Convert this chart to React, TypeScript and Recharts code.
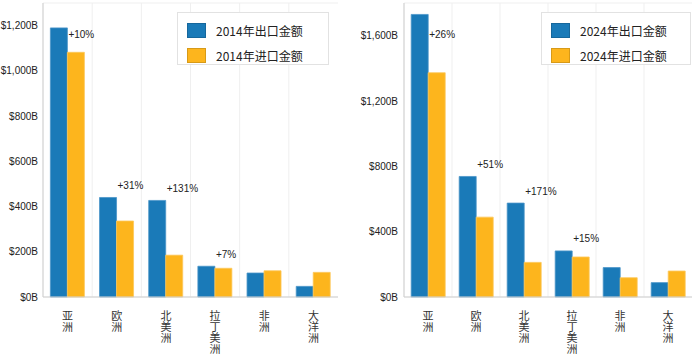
import React from "react";
import { BarChart, Bar, XAxis, YAxis, CartesianGrid, Legend, LabelList } from "recharts";

const regions = ["亚洲", "欧洲", "北美洲", "拉丁美洲", "非洲", "大洋洲"];
const export2014 = [1190, 440, 427, 136, 106, 47];
const import2014 = [1082, 336, 185, 127, 116, 109];
const export2024 = [1730, 738, 575, 282, 180, 88];
const import2024 = [1373, 489, 212, 245, 118, 159];
const growth2014 = ["+10%", "+31%", "+131%", "+7%", "", ""];
const growth2024 = ["+26%", "+51%", "+171%", "+15%", "", ""];
const ticks2014 = [0, 200, 400, 600, 800, 1000, 1200];
const ticks2024 = [0, 400, 800, 1200, 1600];

const BLUE = "#1a7ab8";
const ORANGE = "#fdb51d";
const FONT = "'Liberation Sans', Arial, 'Noto Sans CJK SC', sans-serif";
const CJK = "'Noto Sans CJK SC', 'Liberation Sans', sans-serif";
const PLOT_TOP = 3;

const fmt = (v: number) => `$${v.toLocaleString("en-US")}B`;

function VerticalTick(props: any) {
  const { x, y, payload } = props;
  const chars = String(payload.value).split("");
  return (
    <g>
      {chars.map((c, i) => (
        <text
          key={i}
          x={x}
          y={y + 21 + i * 11}
          textAnchor="middle"
          fontSize={11}
          fill="#333"
          fontFamily={CJK}
        >
          {c}
        </text>
      ))}
    </g>
  );
}

function LegendBox({ year, left, width }: { year: string; left: number; width: number }) {
  const rows = [
    { color: BLUE, text: `${year}年出口金额` },
    { color: ORANGE, text: `${year}年进口金额` },
  ];
  return (
    <div
      style={{
        position: "absolute",
        left,
        top: 12,
        width,
        height: 53,
        boxSizing: "border-box",
        border: "1px solid #e2e2e2",
        background: "#fff",
        padding: "5px 0 0 9px",
      }}
    >
      {rows.map((r) => (
        <div key={r.text} style={{ display: "flex", alignItems: "center", height: 25 }}>
          <span
            style={{
              width: 19,
              height: 15,
              background: r.color,
              boxSizing: "border-box",
              border: "1px solid rgba(0,0,0,0.15)",
              marginRight: 10,
            }}
          />
          <span style={{ fontFamily: CJK, fontSize: 12, color: "#222" }}>{r.text}</span>
        </div>
      ))}
    </div>
  );
}

interface PanelProps {
  year: string;
  exports: number[];
  imports: number[];
  growth: string[];
  yMax: number;
  ticks: number[];
  yWidth: number;
  rightMargin: number;
  tickMargin: number;
  legendLeft: number;
  legendWidth: number;
}

function Panel(p: PanelProps) {
  const data = regions.map((name, i) => ({
    name,
    exp: p.exports[i],
    imp: p.imports[i],
    growth: p.growth[i],
  }));

  const growthLabel = (props: any) => {
    const { x, y, width, index } = props;
    const txt = p.growth[index];
    if (!txt) return null;
    const ty = Math.max(y - 12, PLOT_TOP + 31);
    return (
      <text x={x + width + 1} y={ty} dominantBaseline="central" fontSize={10} fill="#222" fontFamily={FONT}>
        {txt}
      </text>
    );
  };

  return (
    <BarChart
      width={350}
      height={357}
      data={data}
      margin={{ top: PLOT_TOP, right: p.rightMargin, bottom: 0, left: 0 }}
      barCategoryGap="15%"
      barGap={0}
    >
      <CartesianGrid
        stroke="#efefef"
        verticalCoordinatesGenerator={({ offset }: any) =>
          regions.map((_, i) => offset.left + (i * offset.width) / regions.length)
        }
      />
      <XAxis
        dataKey="name"
        interval={0}
        height={60}
        tickLine={false}
        tickSize={0}
        axisLine={{ stroke: "#cfcfcf" }}
        tick={<VerticalTick />}
      />
      <XAxis xAxisId="top" orientation="top" dataKey="name" height={0} tick={false} tickLine={false} axisLine={{ stroke: "#cfcfcf" }} />
      <YAxis
        yAxisId="left"
        width={p.yWidth}
        domain={[0, p.yMax]}
        ticks={p.ticks}
        tickFormatter={fmt}
        tickLine={false}
        tickSize={0}
        tickMargin={p.tickMargin}
        axisLine={{ stroke: "#cfcfcf" }}
        tick={{ fontSize: 10, fill: "#222", fontFamily: FONT }}
      />
      <YAxis yAxisId="right" orientation="right" width={0} domain={[0, p.yMax]} tick={false} tickLine={false} axisLine={{ stroke: "#cfcfcf" }} />
      <Legend content={() => <LegendBox year={p.year} left={p.legendLeft} width={p.legendWidth} />} wrapperStyle={{ position: "absolute", left: 0, top: 0, width: 0, height: 0 }} />
      <Bar dataKey="exp" yAxisId="left" fill={BLUE} stroke="#4a94c8" strokeWidth={0.8} isAnimationActive={false}>
        <LabelList dataKey="growth" content={growthLabel} />
      </Bar>
      <Bar dataKey="imp" yAxisId="left" fill={ORANGE} stroke="#fdc85a" strokeWidth={0.8} isAnimationActive={false} />
    </BarChart>
  );
}

export default function App() {
  return (
    <div style={{ position: "absolute", left: 0, top: 0, width: 700, height: 357, background: "#fff" }}>
      <div style={{ position: "absolute", left: 0, top: 0 }}>
        <Panel
          year="2014"
          exports={export2014}
          imports={import2014}
          growth={growth2014}
          yMax={1300}
          ticks={ticks2014}
          yWidth={43}
          rightMargin={12}
          tickMargin={5}
          legendLeft={177}
          legendWidth={152}
        />
      </div>
      <div style={{ position: "absolute", left: 350, top: 0 }}>
        <Panel
          year="2024"
          exports={export2024}
          imports={import2024}
          growth={growth2024}
          yMax={1800}
          ticks={ticks2024}
          yWidth={54}
          rightMargin={8}
          tickMargin={6}
          legendLeft={191}
          legendWidth={150}
        />
      </div>
    </div>
  );
}
